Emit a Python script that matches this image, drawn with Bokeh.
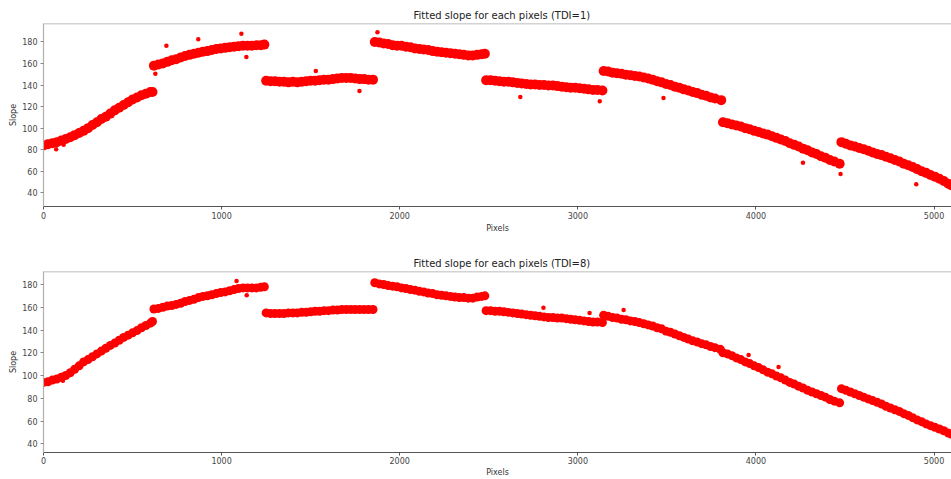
from bokeh.plotting import figure
from bokeh.layouts import column
from bokeh.models import Span, FixedTicker, Range1d
from bokeh.embed import file_html
from bokeh.resources import INLINE

# ---- data: pixel index and fitted slope (band centre) ----
tdi1_x = [0, 25, 50, 75, 100, 125, 150, 175, 200, 225, 250, 275, 300, 325, 350, 375, 400, 425, 450, 475, 500, 525, 550, 575, 600, 612,
          620, 645, 670, 695, 720, 745, 770, 795, 820, 845, 870, 895, 920, 945, 970, 995, 1020, 1045, 1070, 1095, 1120, 1145, 1170, 1195, 1220, 1240,
          1250, 1275, 1300, 1325, 1350, 1375, 1400, 1425, 1450, 1475, 1500, 1525, 1550, 1575, 1600, 1625, 1650, 1675, 1700, 1725, 1750, 1775, 1800, 1825, 1850,
          1860, 1885, 1910, 1935, 1960, 1985, 2010, 2035, 2060, 2085, 2110, 2135, 2160, 2185, 2210, 2235, 2260, 2285, 2310, 2335, 2360, 2385, 2410, 2435, 2460, 2478,
          2485, 2510, 2535, 2560, 2585, 2610, 2635, 2660, 2685, 2710, 2735, 2760, 2785, 2810, 2835, 2860, 2885, 2910, 2935, 2960, 2985, 3010, 3035, 3060, 3085, 3110, 3138,
          3145, 3170, 3195, 3220, 3245, 3270, 3295, 3320, 3345, 3370, 3395, 3420, 3445, 3470, 3495, 3520, 3545, 3570, 3595, 3620, 3645, 3670, 3695, 3720, 3745, 3770, 3805,
          3815, 3840, 3865, 3890, 3915, 3940, 3965, 3990, 4015, 4040, 4065, 4090, 4115, 4140, 4165, 4190, 4215, 4240, 4265, 4290, 4315, 4340, 4365, 4390, 4415, 4440, 4470,
          4480, 4505, 4530, 4555, 4580, 4605, 4630, 4655, 4680, 4705, 4730, 4755, 4780, 4805, 4830, 4855, 4880, 4905, 4930, 4955, 4980, 5005, 5030, 5055, 5080, 5097]
tdi1_slope = [84, 85, 86, 87, 88.5, 90, 91.5, 93.5, 95.5, 97.5, 100, 103, 105.5, 108.5, 110.5, 113.5, 116.5, 119, 121.5, 124, 126.5, 128.5, 130.5, 132, 133.5, 133.5,
              158, 159, 160, 161.5, 163, 164, 165.5, 167, 168, 169, 170, 171, 171.5, 172.5, 173.5, 174, 174.5, 175, 175.5, 176, 176.5, 176.5, 176.5, 177, 177, 177.5,
              144, 143.5, 143.5, 143, 143, 142.5, 143, 142.5, 143, 143.5, 144, 144, 144.5, 145, 145, 145.5, 146, 146.5, 146.5, 146.5, 146, 145.5, 145.5, 145, 145,
              180, 179.5, 178.5, 178, 177, 176.5, 176.5, 175.5, 175, 174, 173.5, 173, 172.5, 171.5, 171, 170.5, 170, 169.5, 169, 168.5, 168, 167.5, 167.5, 168, 168.5, 169,
              144.5, 144.5, 144, 143.5, 143, 143, 142.5, 142, 141.5, 141, 140.5, 140.5, 140, 140, 139.5, 139.5, 139, 138.5, 138, 137.5, 137.5, 137, 136.5, 136, 135.5, 135.5, 135,
              153, 152.5, 151.5, 151, 150.5, 149.5, 149, 148.5, 148, 147, 146, 145, 143.5, 142.5, 141, 140, 138.5, 137.5, 136, 135, 133.5, 132.5, 131, 130, 128.5, 127.5, 126,
              105.5, 104.5, 103.5, 102.5, 101.5, 100, 99, 97.5, 96.5, 95, 94, 92.5, 91, 89.5, 88, 86, 84.5, 83, 81, 79.5, 77.5, 76, 74, 72.5, 70.5, 69, 67,
              87, 85.5, 84, 83, 81.5, 80.5, 79, 77.5, 76, 75, 73.5, 72, 70.5, 69, 67, 65.5, 64, 62, 60, 58.5, 56.5, 55, 53, 51, 48.5, 47]
# isolated points lying off the band (TDI=1)
tdi1_out_x = [71, 113, 628, 690, 869, 1111, 1139, 1529, 1774, 1875, 2677, 3123, 3481, 4264, 4475, 4900]
tdi1_out_slope = [80.5, 84.5, 150.5, 176.5, 182.5, 187.5, 166, 153, 134.5, 189, 129, 125, 128, 68, 57.5, 48]

tdi8_x = [0, 25, 50, 75, 100, 125, 150, 175, 200, 225, 250, 275, 300, 325, 350, 375, 400, 425, 450, 475, 500, 525, 550, 575, 600, 612,
          620, 645, 670, 695, 720, 745, 770, 795, 820, 845, 870, 895, 920, 945, 970, 995, 1020, 1045, 1070, 1095, 1120, 1145, 1170, 1195, 1220, 1240,
          1250, 1275, 1300, 1325, 1350, 1375, 1400, 1425, 1450, 1475, 1500, 1525, 1550, 1575, 1600, 1625, 1650, 1675, 1700, 1725, 1750, 1775, 1800, 1825, 1850,
          1860, 1885, 1910, 1935, 1960, 1985, 2010, 2035, 2060, 2085, 2110, 2135, 2160, 2185, 2210, 2235, 2260, 2285, 2310, 2335, 2360, 2385, 2410, 2435, 2460, 2478,
          2485, 2510, 2535, 2560, 2585, 2610, 2635, 2660, 2685, 2710, 2735, 2760, 2785, 2810, 2835, 2860, 2885, 2910, 2935, 2960, 2985, 3010, 3035, 3060, 3085, 3110, 3138,
          3145, 3170, 3195, 3220, 3245, 3270, 3295, 3320, 3345, 3370, 3395, 3420, 3445, 3470, 3495, 3520, 3545, 3570, 3595, 3620, 3645, 3670, 3695, 3720, 3745, 3770, 3800,
          3815, 3840, 3865, 3890, 3915, 3940, 3965, 3990, 4015, 4040, 4065, 4090, 4115, 4140, 4165, 4190, 4215, 4240, 4265, 4290, 4315, 4340, 4365, 4390, 4415, 4440, 4470,
          4480, 4505, 4530, 4555, 4580, 4605, 4630, 4655, 4680, 4705, 4730, 4755, 4780, 4805, 4830, 4855, 4880, 4905, 4930, 4955, 4980, 5005, 5030, 5055, 5080, 5097]
tdi8_slope = [94, 94.5, 96, 97, 98.5, 100, 102.5, 105.5, 108.5, 112, 114, 116.5, 119, 121.5, 124, 126.5, 128.5, 131, 133.5, 135.5, 137.5, 139.5, 142, 144, 146, 147.5,
              158.5, 159, 160, 161, 161.5, 162.5, 163.5, 165, 166, 167, 168.5, 169.5, 170, 171, 172, 173, 173.5, 174.5, 175.5, 176.5, 177, 177, 177, 177, 177.5, 178,
              155, 154.5, 154.5, 154.5, 154.5, 155, 155, 155, 155.5, 155.5, 156, 156.5, 156.5, 157, 157, 157.5, 157.5, 158, 158, 158, 158, 158, 158, 158, 158,
              181.5, 180.5, 180, 179, 178.5, 178, 177, 176.5, 175.5, 175, 174, 173.5, 172.5, 172, 171, 170.5, 170, 169.5, 169, 168.5, 168.5, 168, 168, 169, 169.5, 170,
              157, 157, 156.5, 156.5, 156, 155.5, 155, 154.5, 154, 153.5, 153, 152.5, 152, 151.5, 151, 151, 150.5, 150.5, 150, 149.5, 149, 148.5, 148, 147.5, 147, 147, 146.5,
              153, 152, 151, 150.5, 149.5, 149, 148, 147.5, 146.5, 145.5, 144.5, 143.5, 142, 141, 139, 138, 136.5, 135, 133.5, 132, 130.5, 129.5, 128, 127, 125.5, 124.5, 123,
              120, 119, 117.5, 115.5, 114, 112, 110.5, 108.5, 107, 105, 103, 101.5, 99.5, 98, 96, 94, 92.5, 90.5, 89, 87, 85.5, 84, 82.5, 81, 79, 77.5, 76,
              88.5, 87, 85.5, 84, 82.5, 81, 79.5, 78, 76.5, 75, 73, 71.5, 70, 68.5, 66.5, 65, 63, 61, 59.5, 57.5, 56, 54.5, 53, 51.5, 49.5, 48.5]
# isolated points lying off the band (TDI=8)
tdi8_out_x = [109, 1084, 1141, 2807, 3066, 3257, 3959, 4127]
tdi8_out_slope = [95.5, 183, 170.5, 159.5, 155, 157.5, 118, 107.5]

titles = ["Fitted slope for each pixels (TDI=1)", "Fitted slope for each pixels (TDI=8)"]
x_ticks = [0, 1000, 2000, 3000, 4000, 5000]
y_ticks = [40, 60, 80, 100, 120, 140, 160, 180]

FONT = "DejaVu Sans"
RED = "#ff0000"


def make_panel(xs, ys, oxs, oys, title, height, top, bottom, y0, y1, msize, xstand):
    p = figure(width=951, height=height, output_backend="svg", toolbar_location=None,
               x_range=Range1d(0, 5098), y_range=Range1d(y0, y1),
               min_border_left=43, min_border_right=0,
               min_border_top=top, min_border_bottom=bottom)
    p.title.text = title
    p.title.text_font = FONT
    p.title.text_font_size = "10px"
    p.title.text_font_style = "normal"
    p.title.text_color = "#222222"
    p.title.align = "left"
    p.title.offset = 370
    p.title.standoff = 6
    p.outline_line_color = None
    p.xgrid.visible = False
    p.ygrid.visible = False
    p.background_fill_color = "white"
    p.border_fill_color = "white"

    p.scatter(xs, ys, size=msize, color=RED, line_color=None, marker="circle")
    p.scatter(oxs, oys, size=4.5, color=RED, line_color=None, marker="circle")

    top_line = Span(location=y1, dimension="width", line_color="#a8a8a8", line_width=1.5)
    p.add_layout(top_line)

    xa = p.xaxis[0]
    xa.ticker = FixedTicker(ticks=x_ticks)
    xa.axis_label = "Pixels"
    xa.axis_label_text_font = FONT
    xa.axis_label_text_font_size = "8px"
    xa.axis_label_text_font_style = "normal"
    xa.axis_label_text_color = "#333333"
    xa.axis_label_standoff = xstand
    xa.major_label_text_font = FONT
    xa.major_label_text_font_size = "8px"
    xa.major_label_text_color = "#444444"
    xa.major_label_standoff = xstand
    xa.axis_line_color = "#555555"
    xa.axis_line_width = 1.2
    xa.major_tick_line_color = "#555555"
    xa.major_tick_in = 0
    xa.major_tick_out = 3
    xa.minor_tick_line_color = None

    ya = p.yaxis[0]
    ya.ticker = FixedTicker(ticks=y_ticks)
    ya.axis_label = "Slope"
    ya.axis_label_text_font = FONT
    ya.axis_label_text_font_size = "8px"
    ya.axis_label_text_font_style = "normal"
    ya.axis_label_text_color = "#333333"
    ya.axis_label_standoff = 1
    ya.major_label_text_font = FONT
    ya.major_label_text_font_size = "8px"
    ya.major_label_text_color = "#444444"
    ya.major_label_standoff = 3
    ya.axis_line_color = "#b0b0b0"
    ya.axis_line_width = 1.2
    ya.major_tick_line_color = "#888888"
    ya.major_tick_in = 0
    ya.major_tick_out = 3
    ya.minor_tick_line_color = None
    return p


p1 = make_panel(tdi1_x, tdi1_slope, tdi1_out_x, tdi1_out_slope, titles[0], 240, 23, 34, 27.3, 197.1, 10, 2)
p2 = make_panel(tdi8_x, tdi8_slope, tdi8_out_x, tdi8_out_slope, titles[1], 239, 31, 27, 32.4, 191.4, 9, 1)

layout = column(p1, p2, spacing=0)
open("out.html", "w").write(file_html(layout, INLINE))
